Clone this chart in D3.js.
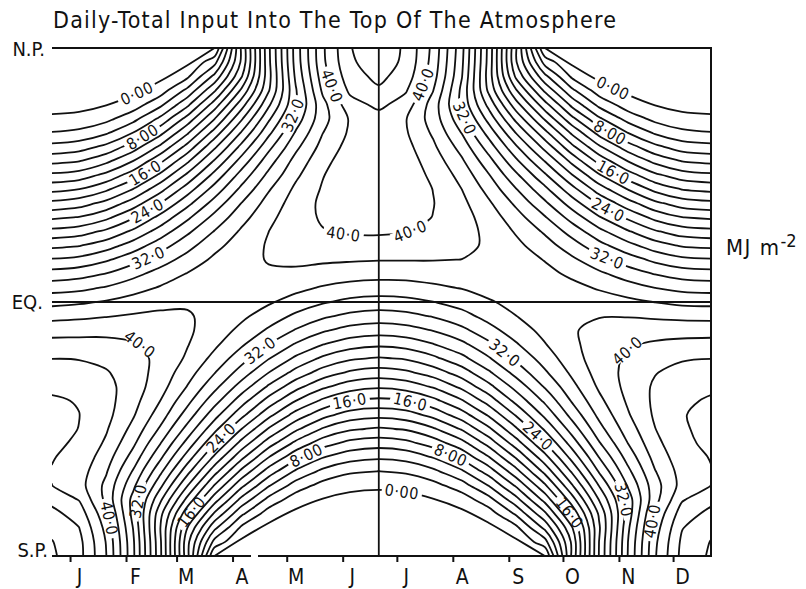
<!DOCTYPE html>
<html>
<head>
<meta charset="utf-8">
<script src="https://cdn.jsdelivr.net/npm/d3@7"></script>
<style>
  body { margin: 0; background: #fff; }
  svg text { font-family: "Liberation Sans Narrow", "DejaVu Sans Condensed", "DejaVu Sans", sans-serif; font-stretch: condensed; fill: #111; }
</style>
</head>
<body>
<svg id="chart" width="806" height="589"></svg>
<script>
// Sampling dates (one full year, December solstice to December solstice)
const dates = ["2000-12-22","2001-01-06","2001-01-21","2001-02-05","2001-02-20","2001-03-07","2001-03-22",
  "2001-04-06","2001-04-21","2001-05-06","2001-05-21","2001-06-05","2001-06-21","2001-07-06","2001-07-21",
  "2001-08-06","2001-08-21","2001-09-05","2001-09-21","2001-10-06","2001-10-21","2001-11-06","2001-11-21",
  "2001-12-06","2001-12-22"];

// Latitude of each grid row, north pole first
const latitudes = [90,85,80,75,70,65,60,55,50,45,40,35,30,25,20,15,10,5,0,
  -5,-10,-15,-20,-25,-30,-35,-40,-45,-50,-55,-60,-65,-70,-75,-80,-85,-90];

// Daily-total insolation at the top of the atmosphere (MJ m-2), one row per latitude, one value per date
const insolation = [
  [0,0,0,0,0,0,0,12.4,23.6,32.9,39.7,43.9,45.2,43.7,39.5,32.6,23.3,12.2,0,0,0,0,0,0,0],
  [0,0,0,0,0,0,3.3,12.4,23.5,32.8,39.6,43.7,45.0,43.6,39.3,32.4,23.2,12.2,3.2,0,0,0,0,0,0],
  [0,0,0,0,0,1.6,6.5,13.8,23.3,32.4,39.1,43.2,44.5,43.1,38.9,32.1,23.0,13.6,6.5,1.6,0,0,0,0,0],
  [0,0,0,0,1.0,4.5,9.7,16.4,23.8,31.8,38.4,42.4,43.7,42.2,38.1,31.5,23.5,16.2,9.6,4.4,1.0,0,0,0,0],
  [0,0,0,0.9,3.5,7.5,12.9,19.1,25.6,31.8,37.4,41.2,42.5,41.1,37.1,31.5,25.3,18.8,12.7,7.4,3.4,0.9,0,0,0],
  [0.3,0.5,1.4,3.3,6.4,10.7,15.9,21.7,27.6,32.9,37.3,40.2,41.2,40.1,37.1,32.6,27.2,21.4,15.7,10.5,6.3,3.2,1.4,0.5,0.3],
  [2.1,2.5,3.7,6.02,9.4,13.7,18.8,24.2,29.5,34.2,37.96,40.3,41.1,40.2,37.7,33.9,29.2,23.9,18.6,13.6,9.3,5.96,3.7,2.5,2.1],
  [4.6,5.1,6.5,9.0,12.4,16.7,21.6,26.6,31.4,35.5,38.7,40.7,41.3,40.6,38.4,35.2,31.0,26.3,21.3,16.5,12.3,8.9,6.5,5.0,4.6],
  [7.4,7.9,9.5,11.99,15.5,19.6,24.2,28.8,33.1,36.7,39.4,41.1,41.6,40.9,39.1,36.3,32.7,28.4,23.9,19.4,15.3,11.9,9.4,7.9,7.4],
  [10.4,10.9,12.5,15.0,18.4,22.4,26.6,30.8,34.5,37.6,39.9,41.3,41.7,41.1,39.6,37.3,34.1,30.4,26.3,22.1,18.2,14.9,12.4,10.9,10.4],
  [13.4,13.99,15.6,18.04,21.3,25.0,28.8,32.5,35.8,38.4,40.2,41.3,41.7,41.2,39.97,37.99,35.3,32.1,28.5,24.7,21.0,17.9,15.4,13.9,13.4],
  [16.5,17.1,18.6,20.97,23.99,27.4,30.8,34.05,36.8,38.9,40.4,41.2,41.4,41.05,40.08,38.5,36.3,33.6,30.4,27.04,23.7,20.8,18.46,17.01,16.5],
  [19.6,20.1,21.5,23.8,26.6,29.6,32.6,35.3,37.5,39.15,40.24,40.8,40.95,40.67,39.96,38.8,37.07,34.85,32.17,29.2,26.2,23.6,21.4,20.04,19.6],
  [22.6,23.1,24.4,26.4,28.9,31.6,34.1,36.3,37.99,39.2,39.9,40.2,40.25,40.06,39.6,38.8,37.5,35.8,33.7,31.2,28.6,26.2,24.24,23.0,22.6],
  [25.5,25.9,27.1,28.94,31.1,33.3,35.4,37.03,38.19,38.9,39.2,39.3,39.3,39.2,38.96,38.5,37.7,36.5,34.9,32.9,30.7,28.67,26.94,25.8,25.5],
  [28.2,28.6,29.7,31.3,33.06,34.8,36.4,37.5,38.1,38.4,38.3,38.2,38.1,38.1,38.08,37.98,37.7,36.99,35.9,34.4,32.7,31.0,29.5,28.5,28.2],
  [30.8,31.2,32.06,33.4,34.8,36.1,37.1,37.6,37.8,37.6,37.2,36.9,36.7,36.7,36.95,37.2,37.3,37.1,36.6,35.6,34.4,33.04,31.9,31.1,30.8],
  [33.2,33.5,34.2,35.2,36.2,37.06,37.5,37.5,37.1,36.5,35.8,35.3,35.1,35.2,35.6,36.1,36.7,37.03,37.0,36.6,35.8,34.9,34.01,33.4,33.2],
  [35.4,35.7,36.2,36.9,37.4,37.8,37.7,37.1,36.24,35.2,34.2,33.5,33.2,33.4,33.96,34.8,35.8,36.6,37.1,37.3,37.0,36.5,35.95,35.5,35.4],
  [37.4,37.6,37.9,38.2,38.4,38.16,37.5,36.4,35.08,33.6,32.36,31.5,31.1,31.4,32.13,33.3,34.7,35.97,37.0,37.7,37.9,37.9,37.7,37.5,37.4],
  [39.2,39.3,39.4,39.3,39.01,38.3,37.1,35.5,33.7,31.85,30.3,29.3,28.9,29.2,30.09,31.5,33.3,35.02,36.6,37.8,38.6,38.96,39.1,39.15,39.2],
  [40.7,40.7,40.6,40.2,39.4,38.1,36.4,34.3,32.0,29.8,28.06,26.9,26.4,26.8,27.9,29.5,31.6,33.8,35.9,37.6,38.9,39.8,40.3,40.6,40.7],
  [41.97,41.9,41.5,40.7,39.5,37.7,35.4,32.8,30.1,27.6,25.6,24.3,23.8,24.2,25.5,27.4,29.8,32.4,34.9,37.2,38.99,40.3,41.2,41.8,41.97],
  [43.0,42.8,42.17,41.0,39.2,36.9,34.1,31.1,28.01,25.3,23.1,21.7,21.1,21.6,22.9,25.0,27.7,30.7,33.7,36.4,38.8,40.6,41.9,42.7,43.0],
  [43.7,43.5,42.6,41.0,38.8,35.9,32.6,29.1,25.7,22.7,20.4,18.9,18.3,18.8,20.2,22.5,25.4,28.7,32.2,35.4,38.3,40.6,42.3,43.3,43.7],
  [44.2,43.9,42.7,40.7,37.99,34.6,30.8,26.9,23.2,20.02,17.6,16.03,15.5,15.97,17.4,19.8,22.9,26.6,30.4,34.2,37.5,40.3,42.4,43.7,44.2],
  [44.5,44.03,42.6,40.2,37.0,33.1,28.8,24.6,20.6,17.2,14.7,13.1,12.6,13.1,14.6,17.1,20.3,24.2,28.5,32.7,36.5,39.8,42.3,43.9,44.5],
  [44.5,43.97,42.2,39.4,35.7,31.3,26.6,22.01,17.8,14.4,11.8,10.3,9.7,10.2,11.7,14.2,17.6,21.7,26.3,30.9,35.3,39.0,41.95,43.8,44.5],
  [44.4,43.7,41.7,38.4,34.1,29.3,24.2,19.3,14.96,11.5,8.9,7.4,6.9,7.4,8.9,11.3,14.8,19.05,23.9,28.9,33.8,38.03,41.4,43.6,44.4],
  [44.1,43.4,40.95,37.2,32.4,27.1,21.6,16.5,12.03,8.6,6.1,4.8,4.3,4.7,6.1,8.5,11.9,16.2,21.3,26.7,32.04,36.8,40.7,43.2,44.1],
  [43.9,42.97,40.2,35.8,30.5,24.7,18.8,13.5,9.1,5.7,3.5,2.3,1.98,2.3,3.5,5.7,8.97,13.3,18.6,24.3,30.2,35.5,39.9,42.8,43.9],
  [44.01,42.8,39.5,34.5,28.5,22.1,15.9,10.5,6.2,3.1,1.3,0.5,0.2,0.5,1.3,3.1,6.1,10.3,15.7,21.8,28.1,34.2,39.2,42.7,44.01],
  [45.4,43.9,39.5,33.3,26.4,19.4,12.9,7.4,3.4,0.9,0,0,0,0,0,0.9,3.3,7.3,12.7,19.1,26.1,32.99,39.3,43.8,45.4],
  [46.6,45.1,40.6,33.3,24.6,16.6,9.7,4.4,1.0,0,0,0,0,0,0,0,1.0,4.3,9.6,16.4,24.3,32.96,40.4,44.99,46.6],
  [47.5,46.03,41.4,33.9,24.03,14.0,6.5,1.6,0,0,0,0,0,0,0,0,0,1.5,6.5,13.8,23.7,33.6,41.1,45.9,47.5],
  [48.08,46.6,41.9,34.3,24.3,12.6,3.3,0,0,0,0,0,0,0,0,0,0,0,3.2,12.4,24.02,33.99,41.6,46.4,48.08],
  [48.3,46.7,42.06,34.4,24.4,12.6,0,0,0,0,0,0,0,0,0,0,0,0,0,12.4,24.1,34.1,41.8,46.6,48.3]
];

// Edge of the polar night (the 0.00 line) on each date; null where there is none
const northPolarNight = [66.6,67.4,69.7,73.4,78.3,83.9,90,null,null,null,null,null,null,null,null,null,null,null,
  90,83.9,78.3,73.4,69.7,67.4,66.6];
const southPolarNight = [null,null,null,null,null,null,-90,-83.9,-78.3,-73.4,-69.7,-67.4,-66.6,-67.4,-69.7,
  -73.4,-78.3,-83.9,-90,null,null,null,null,null,null];

// Contour levels (MJ m-2)
const contourLevels = [2,4,6,8,10,12,14,16,18,20,22,24,26,28,30,32,34,36,38,40,42,44,46,48];

// In-line contour labels: level, text and the date / latitude near which each one sits
const contourLabels = [
  {level: 0,  text: "0·00", date: "2001-02-07", lat: 73.7},
  {level: 8,  text: "8·00", date: "2001-02-09", lat: 59.9},
  {level: 16, text: "16·0", date: "2001-02-10", lat: 47.6},
  {level: 24, text: "24·0", date: "2001-02-11", lat: 34.8},
  {level: 32, text: "32·0", date: "2001-02-11", lat: 18.9},
  {level: 32, text: "32·0", date: "2001-05-01", lat: 67.0},
  {level: 40, text: "40·0", date: "2001-05-26", lat: 76.6},
  {level: 40, text: "40·0", date: "2001-07-15", lat: 77.3},
  {level: 40, text: "40·0", date: "2001-06-01", lat: 21.8},
  {level: 40, text: "40·0", date: "2001-07-11", lat: 21.8},
  {level: 32, text: "32·0", date: "2001-08-10", lat: 66.0},
  {level: 0,  text: "0·00", date: "2001-10-28", lat: 74.8},
  {level: 8,  text: "8·00", date: "2001-10-28", lat: 61.4},
  {level: 16, text: "16·0", date: "2001-10-31", lat: 48.3},
  {level: 24, text: "24·0", date: "2001-10-28", lat: 35.2},
  {level: 32, text: "32·0", date: "2001-10-28", lat: 20.0},
  {level: 40, text: "40·0", date: "2001-02-08", lat: -15.4},
  {level: 32, text: "32·0", date: "2001-04-17", lat: -17.8},
  {level: 16, text: "16·0", date: "2001-06-05", lat: -35.9},
  {level: 16, text: "16·0", date: "2001-07-08", lat: -35.9},
  {level: 24, text: "24·0", date: "2001-03-23", lat: -46.5},
  {level: 8,  text: "8·00", date: "2001-05-12", lat: -54.3},
  {level: 0,  text: "0·00", date: "2001-07-04", lat: -66.0},
  {level: 8,  text: "8·00", date: "2001-07-31", lat: -54.3},
  {level: 32, text: "32·0", date: "2001-08-30", lat: -17.8},
  {level: 24, text: "24·0", date: "2001-09-19", lat: -46.1},
  {level: 40, text: "40·0", date: "2001-11-01", lat: -14.3},
  {level: 16, text: "16·0", date: "2001-03-08", lat: -73.7},
  {level: 32, text: "32·0", date: "2001-02-06", lat: -70.2},
  {level: 40, text: "40·0", date: "2001-01-19", lat: -77.3},
  {level: 16, text: "16·0", date: "2001-10-08", lat: -73.0},
  {level: 32, text: "32·0", date: "2001-11-08", lat: -69.5},
  {level: 40, text: "40·0", date: "2001-11-23", lat: -78.0}
];

const poleLabels = [{text: "N.P.", lat: 90}, {text: "EQ.", lat: 0}, {text: "S.P.", lat: -90}];
const solsticeDate = "2001-06-21";

// ---------------------------------------------------------------------------
const frame = {left: 52, right: 711, top: 48, bottom: 556};
const parseDay = d3.utcParse("%Y-%m-%d");
const svg = d3.select("#chart");
const defs = svg.append("defs");

const x = d3.scaleUtc()
  .domain([parseDay(dates[0]), parseDay(dates[dates.length - 1])])
  .range([frame.left, frame.right]);
const y = d3.scaleLinear().domain([90, -90]).range([frame.top, frame.bottom]);

// grid index -> pixel (grid columns are not evenly spaced in time)
const nx = dates.length, ny = latitudes.length;
const colX = d3.scaleLinear().domain(d3.range(nx)).range(dates.map(d => x(parseDay(d))));
const rowY = d3.scaleLinear().domain(d3.range(ny)).range(latitudes.map(l => y(l)));

defs.append("clipPath").attr("id", "plot-clip").append("rect")
  .attr("x", frame.left).attr("y", frame.top)
  .attr("width", frame.right - frame.left).attr("height", frame.bottom - frame.top);

// Turn d3.contours rings into open / closed isolines that lie inside the data grid
function isolines(geometry) {
  const eps = 1e-6;
  const inside = p => p[0] >= 0.5 - eps && p[0] <= nx - 0.5 + eps && p[1] >= 0.5 - eps && p[1] <= ny - 0.5 + eps;
  const toPx = p => [colX(p[0] - 0.5), rowY(p[1] - 0.5)];
  const dedupe = pts => pts.filter((p, i) => i === 0 || Math.hypot(p[0] - pts[i - 1][0], p[1] - pts[i - 1][1]) > 0.3);
  const out = [];
  for (const polygon of geometry.coordinates) {
    for (const ring of polygon) {
      const pts = ring.slice(0, -1);
      const flags = pts.map(inside);
      if (flags.every(Boolean)) { out.push({closed: true, pts: dedupe(pts.map(toPx))}); continue; }
      const start = flags.indexOf(false);
      let cur = [];
      for (let i = 1; i <= pts.length; i++) {
        const j = (start + i) % pts.length;
        if (flags[j]) cur.push(toPx(pts[j]));
        else { if (cur.length > 1) out.push({closed: false, pts: dedupe(cur)}); cur = []; }
      }
    }
  }
  return out;
}

const openLine = d3.line().curve(d3.curveCatmullRom.alpha(0.5));
const closedLine = d3.line().curve(d3.curveCatmullRomClosed.alpha(0.5));

const plot = svg.append("g").attr("clip-path", "url(#plot-clip)");
const levelGroups = new Map();

// polar-night edge (level 0)
const g0 = plot.append("g").attr("class", "level-0");
levelGroups.set(0, g0);
const edgeLine = d3.line()
  .x(d => x(parseDay(d.date)))
  .y(d => y(d.lat))
  .curve(d3.curveCatmullRom.alpha(0.5));
[northPolarNight, southPolarNight].forEach(edge => {
  let run = [];
  dates.map((d, i) => ({date: d, lat: edge[i]})).concat([{lat: null}]).forEach(p => {
    if (p.lat === null) { if (run.length > 1) g0.append("path").attr("d", edgeLine(run)); run = []; }
    else run.push(p);
  });
});

// insolation contours
const contourGen = d3.contours().size([nx, ny]).thresholds(contourLevels);
const field = contourGen(insolation.flat());
field.forEach(c => {
  const g = plot.append("g").attr("class", "level-" + c.value);
  levelGroups.set(c.value, g);
  isolines(c).forEach(line => {
    if (line.pts.length < 2) return;
    g.append("path").attr("d", line.closed ? closedLine(line.pts) : openLine(line.pts));
  });
});

plot.selectAll("path")
  .attr("fill", "none").attr("stroke", "#111").attr("stroke-width", 1.8)
  .attr("stroke-linejoin", "round").attr("stroke-linecap", "round");

// equator and June solstice
plot.append("line")
  .attr("x1", frame.left).attr("x2", frame.right).attr("y1", y(0)).attr("y2", y(0))
  .attr("stroke", "#111").attr("stroke-width", 1.8);
plot.append("line")
  .attr("x1", x(parseDay(solsticeDate))).attr("x2", x(parseDay(solsticeDate)))
  .attr("y1", frame.top).attr("y2", frame.bottom)
  .attr("stroke", "#111").attr("stroke-width", 1.8);

// place labels on their contour lines
function snapTo(nodes, px, py) {
  let best = null, bd = Infinity;
  nodes.forEach(node => {
    const L = node.getTotalLength();
    for (let s = 0; s <= L; s += 1) {
      const p = node.getPointAtLength(s);
      const d = (p.x - px) ** 2 + (p.y - py) ** 2;
      if (d < bd) { bd = d; best = {node, s, L}; }
    }
  });
  if (!best) return null;
  const {node, s, L} = best;
  const p = node.getPointAtLength(s);
  const a = node.getPointAtLength(Math.max(0, s - 5));
  const b = node.getPointAtLength(Math.min(L, s + 5));
  let ang = Math.atan2(b.y - a.y, b.x - a.x) * 180 / Math.PI;
  if (ang > 90) ang -= 180;
  if (ang <= -90) ang += 180;
  return {x: p.x, y: p.y, ang};
}

const labelLayer = svg.append("g");
const masks = new Map();
contourLabels.forEach(lab => {
  const g = levelGroups.get(lab.level);
  if (!g) return;
  const pos = snapTo(g.selectAll("path").nodes(), x(parseDay(lab.date)), y(lab.lat));
  if (!pos) return;
  const t = labelLayer.append("text")
    .attr("transform", `translate(${pos.x},${pos.y}) rotate(${pos.ang})`)
    .attr("text-anchor", "middle").attr("dy", "0.36em")
    .attr("font-size", 16).attr("letter-spacing", 0.6)
    .text(lab.text);
  const w = t.node().getComputedTextLength() + 6;
  if (!masks.has(lab.level)) {
    const m = defs.append("mask").attr("id", "gap-" + lab.level)
      .attr("maskUnits", "userSpaceOnUse").attr("x", 0).attr("y", 0).attr("width", 806).attr("height", 589);
    m.append("rect").attr("x", 0).attr("y", 0).attr("width", 806).attr("height", 589).attr("fill", "#fff");
    masks.set(lab.level, m);
    g.attr("mask", `url(#gap-${lab.level})`);
  }
  masks.get(lab.level).append("rect")
    .attr("transform", `translate(${pos.x},${pos.y}) rotate(${pos.ang})`)
    .attr("x", -w / 2).attr("y", -4.5).attr("width", w).attr("height", 9).attr("fill", "#000");
});

// frame (bottom edge has a small break near April)
svg.append("path")
  .attr("d", `M${frame.left},${frame.top}H${frame.right}V${frame.bottom}H258M251,${frame.bottom}H${frame.left}Z`)
  .attr("fill", "none").attr("stroke", "#111").attr("stroke-width", 2);

// month axis
const axis = d3.axisBottom(x)
  .ticks(d3.utcMonth.every(1))
  .tickSize(6)
  .tickFormat(d => d3.utcFormat("%b")(d)[0]);
const gx = svg.append("g").attr("transform", `translate(0,${frame.bottom})`).call(axis);
gx.select(".domain").remove();
gx.selectAll(".tick line").attr("stroke", "#111").attr("stroke-width", 2);
gx.selectAll(".tick text")
  .attr("dy", null).attr("y", 28).attr("x", 9)
  .attr("font-size", 21).attr("fill", "#111")
  .style("font-family", '"Liberation Sans Narrow", "DejaVu Sans Condensed", "DejaVu Sans", sans-serif');

// pole / equator labels
const poleX = {"N.P.": 45, "EQ.": 43, "S.P.": 48};
svg.append("g").selectAll("text").data(poleLabels).join("text")
  .attr("x", d => poleX[d.text])
  .attr("y", d => y(d.lat) + (d.lat === 90 ? 8 : d.lat === 0 ? 7 : 1))
  .attr("text-anchor", "end").attr("font-size", 20)
  .text(d => d.text);

// title
svg.append("text")
  .attr("x", 53).attr("y", 28).attr("font-size", 23)
  .attr("textLength", 563).attr("lengthAdjust", "spacing")
  .text("Daily-Total Input Into The Top Of The Atmosphere");

// units
const unit = svg.append("text").attr("x", 726).attr("y", 255).attr("font-size", 22);
unit.append("tspan").attr("letter-spacing", 1.5).text("MJ m");
unit.append("tspan").attr("dy", -8).attr("font-size", 18).text("-2");
</script>
</body>
</html>
